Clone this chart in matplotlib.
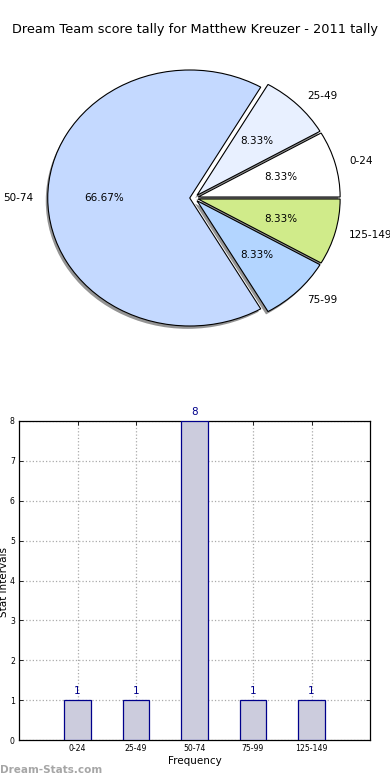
import matplotlib
matplotlib.use("Agg")
import matplotlib.pyplot as plt
import numpy as np

# Data
categories = ["0-24", "25-49", "50-74", "75-99", "125-149"]
counts = [1, 1, 8, 1, 1]
pie_order = ["0-24", "25-49", "50-74", "75-99", "125-149"]
pie_colors = ["#ffffff", "#e8f0ff", "#c4d9ff", "#b3d5ff", "#d0eb8a"]
title = "Dream Team score tally for Matthew Kreuzer - 2011 tally"

W, H = 390, 780
fig = plt.figure(figsize=(W / 100, H / 100), dpi=100)

def fbox(x0, y0, x1, y1):
    return [x0 / W, 1 - y1 / H, (x1 - x0) / W, (y1 - y0) / H]

fig.text(0.5, 1 - 30 / H, title, ha="center", va="center", fontsize=9.3)

# Pie
cx, cy, rx, ry = 194, 198, 142, 128
ax1 = fig.add_axes(fbox(cx - 1.25 * rx, cy - 1.25 * ry, cx + 1.25 * rx, cy + 1.25 * ry))
pie_vals = [counts[categories.index(c)] for c in pie_order]
wedges, texts, autotexts = ax1.pie(
    pie_vals, labels=pie_order, colors=pie_colors, autopct="%.2f%%",
    explode=[0.03] * len(pie_vals),
    shadow=dict(ox=-0.01, oy=-0.016, facecolor="#707070", edgecolor="none", alpha=0.75),
    startangle=0,
    wedgeprops=dict(edgecolor="black", linewidth=0.8),
    textprops=dict(fontsize=7.5))
ax1.set_aspect("auto")
ax1.set_xlim(-1.25, 1.25)
ax1.set_ylim(-1.25, 1.25)
ax1.axis("off")

# Bar
ax2 = fig.add_axes(fbox(19, 421, 370, 740))
x = np.arange(len(categories))
ax2.bar(x, counts, width=0.45, color="#ccccdd", edgecolor="#00008b", linewidth=0.9, zorder=3)
for xi, v in zip(x, counts):
    ax2.text(xi, v + 0.1, str(v), ha="center", va="bottom", color="#00008b", fontsize=7.5, zorder=4)
ax2.set_xlim(-1, 5)
ax2.set_ylim(0, 8)
ax2.set_xticks(x)
ax2.set_xticklabels(categories)
ax2.set_yticks(range(0, 9))
ax2.tick_params(direction="in", top=True, right=True, labelsize=5.6, length=3, width=0.6, pad=3)
ax2.grid(True, linestyle=":", color="#aaaaaa", linewidth=0.9, zorder=0)
ax2.set_axisbelow(True)
for s in ax2.spines.values():
    s.set_linewidth(0.9)
ax2.set_xlabel("Frequency", fontsize=7.5, labelpad=2)
fig.text(4 / W, 1 - 582 / H, "Stat Intervals", rotation=90, ha="center", va="center", fontsize=7.5)

fig.text(0 / W, 1 - 770 / H, "Dream-Stats.com", ha="left", va="center", fontsize=7.5,
         color="#a6a6a6", fontweight="bold")

fig.savefig("out.png", dpi=100)
